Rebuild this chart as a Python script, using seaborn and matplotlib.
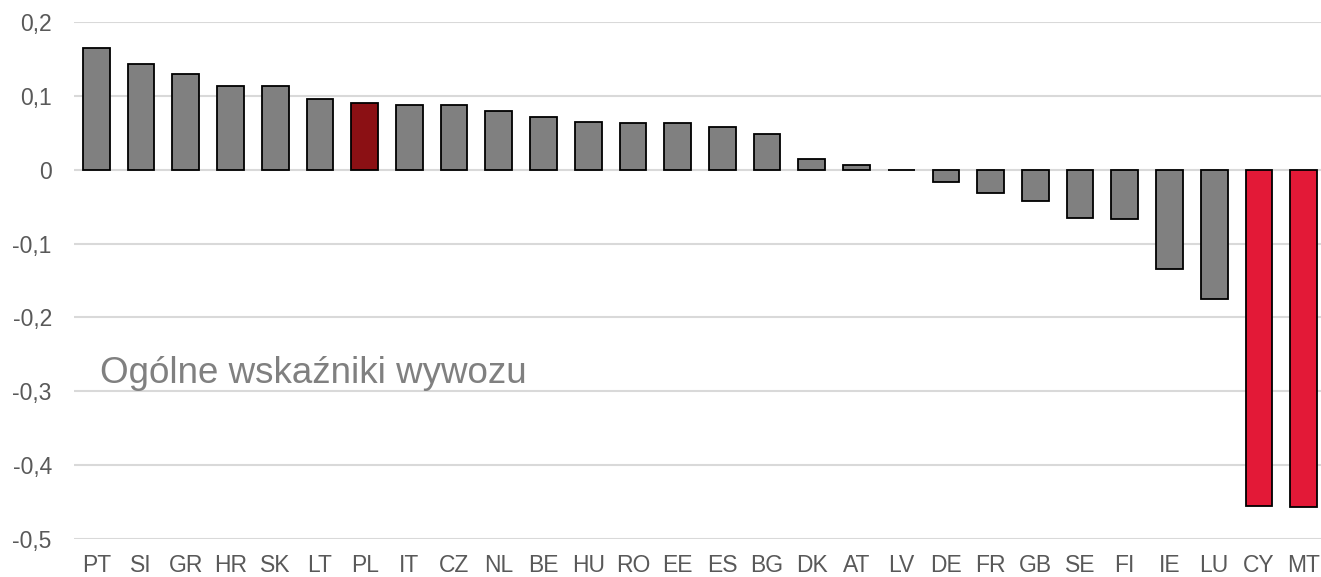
import matplotlib
matplotlib.use("Agg")
import matplotlib.pyplot as plt
import seaborn as sns
import pandas as pd

countries = ["PT", "SI", "GR", "HR", "SK", "LT", "PL", "IT", "CZ", "NL", "BE", "HU", "RO", "EE",
             "ES", "BG", "DK", "AT", "LV", "DE", "FR", "GB", "SE", "FI", "IE", "LU", "CY", "MT"]
values = [0.165, 0.143, 0.130, 0.114, 0.114, 0.096, 0.090, 0.088, 0.088, 0.079, 0.072, 0.064, 0.063, 0.063,
          0.058, 0.049, 0.015, 0.006, -0.001, -0.017, -0.031, -0.043, -0.066, -0.067, -0.134, -0.175, -0.455, -0.457]
highlight_pl = ["PL"]
highlight_red = ["CY", "MT"]
yticks = [0.2, 0.1, 0, -0.1, -0.2, -0.3, -0.4, -0.5]
label_text = "Ogólne wskaźniki wywozu"

df = pd.DataFrame({"country": countries, "value": values})
palette = {}
for c in countries:
    if c in highlight_pl:
        palette[c] = "#8B1014"
    elif c in highlight_red:
        palette[c] = "#E31937"
    else:
        palette[c] = "#808080"

sns.set_style("white")
plt.rcParams["font.family"] = ["Liberation Sans", "DejaVu Sans"]

fig = plt.figure(figsize=(13.21, 5.77), dpi=100)
ax = fig.add_axes([74 / 1321, 1 - 539 / 577, (1326 - 74) / 1321, (539 - 22) / 577])

sns.barplot(data=df, x="country", y="value", hue="country", palette=palette, legend=False,
            saturation=1, width=0.6, edgecolor="black", linewidth=1.3, ax=ax, zorder=3)

ax.set_ylim(-0.5, 0.2)
ax.set_yticks(yticks)
ax.set_yticklabels([("%g" % t).replace(".", ",") for t in yticks])
ax.grid(axis="y", color="#D9D9D9", linewidth=1.5, zorder=0)
ax.set_axisbelow(True)
for s in ax.spines.values():
    s.set_visible(False)
ax.tick_params(axis="both", length=0, labelsize=16.5, labelcolor="#595959")
ax.tick_params(axis="y", pad=16)
ax.tick_params(axis="x", pad=11)
ax.set_xlabel("")
ax.set_ylabel("")

fig.text(100 / 1321, 1 - 383 / 577, label_text, fontsize=26.5, color="#808080", ha="left", va="baseline")

fig.savefig("out.png", dpi=100)
